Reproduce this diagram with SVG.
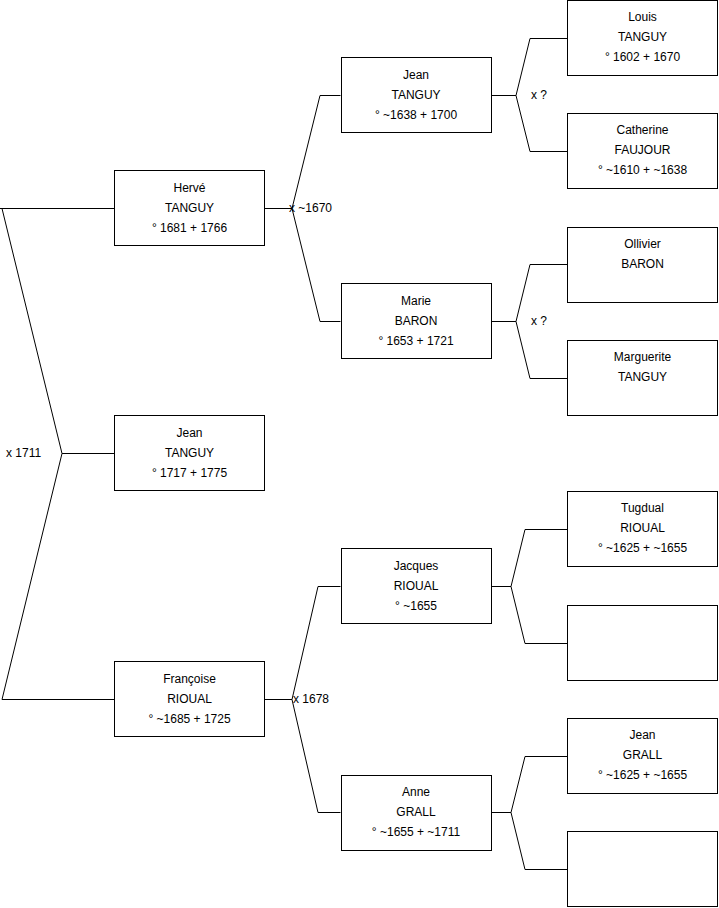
<svg xmlns="http://www.w3.org/2000/svg" width="719" height="908" viewBox="0 0 719 908">
<style>
rect.b{fill:#fff;stroke:#000;stroke-width:1}
text{font-family:"Liberation Sans",Arial,sans-serif;font-size:12px;fill:#000}
.c{text-anchor:middle}
#connectors path{fill:none;stroke:#000;stroke-width:1}
</style>
<rect width="719" height="908" fill="#fff"/>
<g id="connectors">
<path d="M0,208.5H114.5 M2,208.5L62,453.5L2,699.5H114.5 M62,453.5H114.5"/>
<path d="M264.5,208.5H292 M320,95.5L292,208.5L320,321.5 M320,95.5H340.5 M320,321.5H340.5"/>
<path d="M264.5,699.5H292 M318,586.5L292,699.5L318,812.5 M318,586.5H340.5 M318,812.5H340.5"/>
<path d="M491.5,95.5H516 M530,38.5L516,95.5L530,151.5 M530,38.5H567.5 M530,151.5H567.5"/>
<path d="M491.5,321.5H516 M530,264.5L516,321.5L530,378.5 M530,264.5H567.5 M530,378.5H567.5"/>
<path d="M491.5,586.5H511 M525,529.5L511,586.5L525,643.5 M525,529.5H567.5 M525,643.5H567.5"/>
<path d="M491.5,812.5H511 M525,756.5L511,812.5L525,869.5 M525,756.5H567.5 M525,869.5H567.5"/>
<text x="6" y="457">x 1711</text>
<text x="289" y="212">x ~1670</text>
<text x="293" y="703">x 1678</text>
<text x="531" y="99">x ?</text>
<text x="531" y="325">x ?</text>
</g>
<g id="herve"><rect class="b" x="114.5" y="170.5" width="150" height="75"/>
<text class="c" x="189.5" y="191.5">Hervé</text><text class="c" x="189.5" y="211.5">TANGUY</text><text class="c" x="189.5" y="231.5">° 1681 + 1766</text></g>
<g id="jean1"><rect class="b" x="114.5" y="415.5" width="150" height="75"/>
<text class="c" x="189.5" y="437">Jean</text><text class="c" x="189.5" y="457">TANGUY</text><text class="c" x="189.5" y="477">° 1717 + 1775</text></g>
<g id="francoise"><rect class="b" x="114.5" y="661.5" width="150" height="75"/>
<text class="c" x="189.5" y="682.5">Françoise</text><text class="c" x="189.5" y="702.5">RIOUAL</text><text class="c" x="189.5" y="722.5">° ~1685 + 1725</text></g>
<g id="jean2"><rect class="b" x="341.5" y="57.5" width="150" height="75"/>
<text class="c" x="416" y="78.5">Jean</text><text class="c" x="416" y="98.5">TANGUY</text><text class="c" x="416" y="118.5">° ~1638 + 1700</text></g>
<g id="marie"><rect class="b" x="341.5" y="283.5" width="150" height="75"/>
<text class="c" x="416" y="304.5">Marie</text><text class="c" x="416" y="324.5">BARON</text><text class="c" x="416" y="344.5">° 1653 + 1721</text></g>
<g id="jacques"><rect class="b" x="341.5" y="548.5" width="150" height="75"/>
<text class="c" x="416" y="569.5">Jacques</text><text class="c" x="416" y="589.5">RIOUAL</text><text class="c" x="416" y="609.5">° ~1655</text></g>
<g id="anne"><rect class="b" x="341.5" y="775.5" width="150" height="75"/>
<text class="c" x="416" y="796">Anne</text><text class="c" x="416" y="816">GRALL</text><text class="c" x="416" y="836">° ~1655 + ~1711</text></g>
<g id="louis"><rect class="b" x="567.5" y="0.5" width="150" height="75"/>
<text class="c" x="642.5" y="21">Louis</text><text class="c" x="642.5" y="41">TANGUY</text><text class="c" x="642.5" y="61">° 1602 + 1670</text></g>
<g id="catherine"><rect class="b" x="567.5" y="113.5" width="150" height="75"/>
<text class="c" x="642.5" y="134">Catherine</text><text class="c" x="642.5" y="154">FAUJOUR</text><text class="c" x="642.5" y="174">° ~1610 + ~1638</text></g>
<g id="ollivier"><rect class="b" x="567.5" y="227.5" width="150" height="75"/>
<text class="c" x="642.5" y="248">Ollivier</text><text class="c" x="642.5" y="268">BARON</text></g>
<g id="marguerite"><rect class="b" x="567.5" y="340.5" width="150" height="75"/>
<text class="c" x="642.5" y="361">Marguerite</text><text class="c" x="642.5" y="381">TANGUY</text></g>
<g id="tugdual"><rect class="b" x="567.5" y="491.5" width="150" height="75"/>
<text class="c" x="642.5" y="512">Tugdual</text><text class="c" x="642.5" y="532">RIOUAL</text><text class="c" x="642.5" y="552">° ~1625 + ~1655</text></g>
<g id="empty1"><rect class="b" x="567.5" y="605.5" width="150" height="75"/></g>
<g id="jean3"><rect class="b" x="567.5" y="718.5" width="150" height="75"/>
<text class="c" x="642.5" y="739">Jean</text><text class="c" x="642.5" y="759">GRALL</text><text class="c" x="642.5" y="779">° ~1625 + ~1655</text></g>
<g id="empty2"><rect class="b" x="567.5" y="831.5" width="150" height="75"/></g>
</svg>
